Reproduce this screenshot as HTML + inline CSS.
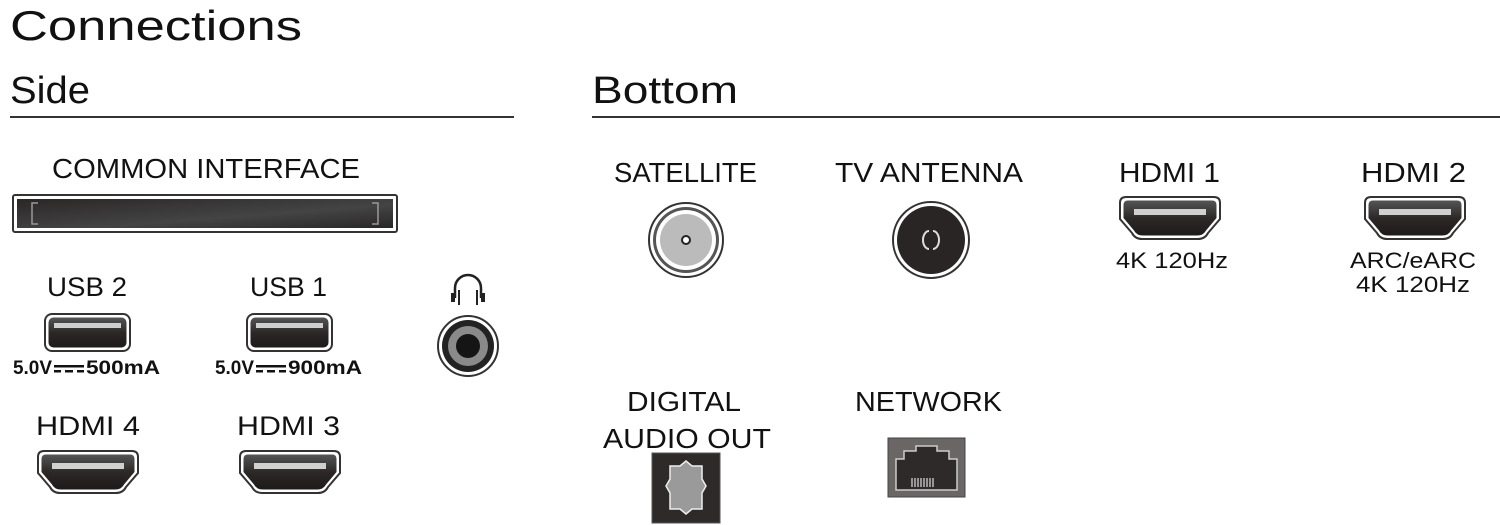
<!DOCTYPE html>
<html><head><meta charset="utf-8"><style>
html,body{margin:0;padding:0;background:#fff;}
svg{display:block;}
text{font-family:"Liberation Sans",sans-serif;fill:#111;}
</style></head><body>
<svg width="1500" height="525" viewBox="0 0 1500 525" xmlns="http://www.w3.org/2000/svg">
<defs>
<linearGradient id="dk" x1="0" y1="0" x2="0" y2="1"><stop offset="0" stop-color="#555"/><stop offset="0.5" stop-color="#2c2828"/><stop offset="1" stop-color="#1e1a1a"/></linearGradient>
<linearGradient id="ci" x1="0" y1="0" x2="1" y2="1"><stop offset="0" stop-color="#2a2626"/><stop offset="0.6" stop-color="#444"/><stop offset="1" stop-color="#2a2626"/></linearGradient>
<g id="hdmi">
<path d="M6,0 H94 Q100,0 100,6 V22 L88,36 Q85,42 78,42 H22 Q15,42 12,36 L0,22 V6 Q0,0 6,0 Z" fill="#fff" stroke="#333" stroke-width="2"/>
<path d="M8,3.5 H92 Q96.5,3.5 96.5,8 V21 L86,33.5 Q83.5,38.5 77,38.5 H23 Q16.5,38.5 14,33.5 L3.5,21 V8 Q3.5,3.5 8,3.5 Z" fill="url(#dk)"/>
<rect x="14" y="12" width="72" height="6" fill="#d0d0d0"/>
</g>
<g id="usb">
<rect x="0" y="0" width="85" height="37" rx="7" fill="#fff" stroke="#333" stroke-width="2"/>
<rect x="3.5" y="3.5" width="78" height="30" rx="5" fill="url(#dk)"/>
<rect x="9" y="9" width="67" height="5" fill="#d0d0d0"/>
</g>
<g id="dc">
<rect x="0" y="-9" width="30" height="2.5" fill="#111"/>
<rect x="0" y="-4" width="7" height="2.5" fill="#111"/><rect x="11" y="-4" width="8" height="2.5" fill="#111"/><rect x="23" y="-4" width="7" height="2.5" fill="#111"/>
</g>
</defs>

<text x="10" y="40" font-size="42" textLength="292" lengthAdjust="spacingAndGlyphs">Connections</text>
<text x="10" y="103" font-size="38" textLength="80" lengthAdjust="spacingAndGlyphs">Side</text>
<text x="592" y="103" font-size="38" textLength="146" lengthAdjust="spacingAndGlyphs">Bottom</text>
<rect x="10" y="116" width="504" height="2" fill="#333"/>
<rect x="592" y="116" width="908" height="2" fill="#333"/>

<text x="52" y="178" font-size="28" textLength="308" lengthAdjust="spacingAndGlyphs">COMMON INTERFACE</text>
<rect x="13" y="195" width="384" height="37" rx="2" fill="#fff" stroke="#333" stroke-width="2"/>
<rect x="17" y="199" width="376" height="29" fill="url(#ci)"/>
<path d="M38,203 H32 V224 H38 M372,203 H378 V224 H372" fill="none" stroke="#999" stroke-width="1.5"/>

<text x="47" y="296" font-size="27" textLength="80" lengthAdjust="spacingAndGlyphs">USB 2</text>
<text x="250" y="296" font-size="27" textLength="77" lengthAdjust="spacingAndGlyphs">USB 1</text>
<use href="#usb" transform="translate(45,314)"/>
<use href="#usb" transform="translate(247,314)"/>
<text x="13" y="374" font-size="19" font-weight="bold" textLength="39" lengthAdjust="spacingAndGlyphs">5.0V</text>
<use href="#dc" transform="translate(54,374)"/>
<text x="86" y="374" font-size="19" font-weight="bold" textLength="74" lengthAdjust="spacingAndGlyphs">500mA</text>
<text x="215" y="374" font-size="19" font-weight="bold" textLength="39" lengthAdjust="spacingAndGlyphs">5.0V</text>
<use href="#dc" transform="translate(256,374)"/>
<text x="288" y="374" font-size="19" font-weight="bold" textLength="74" lengthAdjust="spacingAndGlyphs">900mA</text>

<path d="M455,298 V288 A13,13 0 0 1 481,288 V298" fill="none" stroke="#222" stroke-width="2.5"/>
<rect x="451" y="293" width="4" height="9" fill="#222"/><rect x="458" y="290" width="2" height="15" fill="#222"/>
<rect x="481" y="293" width="4" height="9" fill="#222"/><rect x="476" y="290" width="2" height="15" fill="#222"/>
<circle cx="468" cy="346" r="30" fill="#fff" stroke="#333" stroke-width="2"/>
<circle cx="468" cy="346" r="26" fill="#222"/>
<circle cx="468" cy="346" r="20" fill="#8a8a8a"/>
<circle cx="468" cy="346" r="12" fill="#151515"/>

<text x="36" y="435" font-size="27" textLength="104" lengthAdjust="spacingAndGlyphs">HDMI 4</text>
<text x="237" y="435" font-size="27" textLength="103" lengthAdjust="spacingAndGlyphs">HDMI 3</text>
<use href="#hdmi" transform="translate(38,451)"/>
<use href="#hdmi" transform="translate(240,451)"/>

<text x="614" y="182" font-size="28" textLength="143" lengthAdjust="spacingAndGlyphs">SATELLITE</text>
<text x="835" y="182" font-size="28" textLength="188" lengthAdjust="spacingAndGlyphs">TV ANTENNA</text>
<text x="1119" y="182" font-size="28" textLength="101" lengthAdjust="spacingAndGlyphs">HDMI 1</text>
<text x="1361" y="182" font-size="28" textLength="105" lengthAdjust="spacingAndGlyphs">HDMI 2</text>

<circle cx="686" cy="240" r="37" fill="#fff" stroke="#333" stroke-width="2"/>
<circle cx="686" cy="240" r="33" fill="#555"/>
<circle cx="686" cy="240" r="30" fill="#fff"/>
<circle cx="686" cy="240" r="26" fill="#bbb"/>
<circle cx="686" cy="240" r="4" fill="#fff" stroke="#222" stroke-width="2"/>

<circle cx="931" cy="240" r="38" fill="#fff" stroke="#333" stroke-width="2"/>
<circle cx="931" cy="240" r="34" fill="#2a2525"/>
<path d="M929,231 A6,9 0 0 0 929,249 M933,231 A6,9 0 0 1 933,249" fill="none" stroke="#ddd" stroke-width="2"/>

<use href="#hdmi" transform="translate(1120,197)"/>
<use href="#hdmi" transform="translate(1365,197)"/>
<text x="1116" y="268" font-size="22" textLength="112" lengthAdjust="spacingAndGlyphs">4K 120Hz</text>
<text x="1350" y="268" font-size="22" textLength="126" lengthAdjust="spacingAndGlyphs">ARC/eARC</text>
<text x="1356" y="292" font-size="22" textLength="114" lengthAdjust="spacingAndGlyphs">4K 120Hz</text>

<text x="627" y="411" font-size="28" textLength="114" lengthAdjust="spacingAndGlyphs">DIGITAL</text>
<text x="603" y="448" font-size="28" textLength="168" lengthAdjust="spacingAndGlyphs">AUDIO OUT</text>
<text x="855" y="411" font-size="28" textLength="147" lengthAdjust="spacingAndGlyphs">NETWORK</text>

<rect x="652" y="453" width="68" height="70" fill="#2e2a2a" stroke="#555" stroke-width="1"/>
<path d="M680,466 L686,461 L692,466 H702 V479 L706,486 L702,493 V509 H692 L686,514 L680,509 H670 V493 L666,486 L670,479 V466 Z" fill="#9a9a9a" stroke="#eee" stroke-width="1.5"/>

<rect x="888" y="438" width="77" height="59" fill="#6a6666" stroke="#444" stroke-width="1"/>
<path d="M916,446 V451 H904 V459 H896 V490 H957 V459 H949 V451 H937 V446 Z" fill="#2e2a2a" stroke="#ccc" stroke-width="1.5"/>
<g stroke="#ddd" stroke-width="1.2">
<line x1="912" y1="478" x2="912" y2="487"/><line x1="915" y1="478" x2="915" y2="487"/><line x1="918" y1="478" x2="918" y2="487"/><line x1="921" y1="478" x2="921" y2="487"/><line x1="924" y1="478" x2="924" y2="487"/><line x1="927" y1="478" x2="927" y2="487"/><line x1="930" y1="478" x2="930" y2="487"/><line x1="933" y1="478" x2="933" y2="487"/>
</g>
</svg>
</body></html>
